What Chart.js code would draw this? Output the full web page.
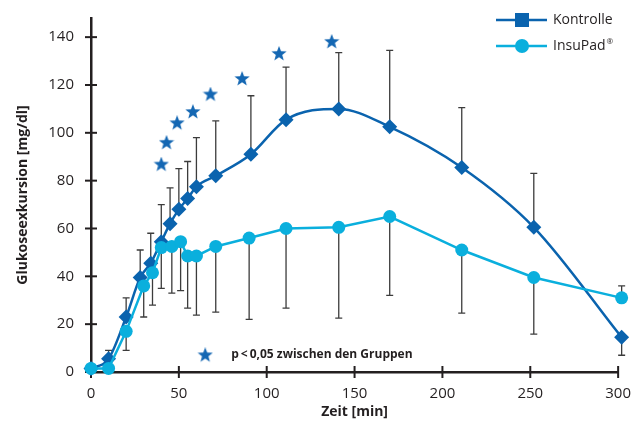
<!DOCTYPE html>
<html>
<head>
<meta charset="utf-8">
<script src="https://cdn.jsdelivr.net/npm/chart.js@4"></script>
<style>
  body { margin: 0; background: #fff; }
  #wrap { width: 636px; height: 438px; }
</style>
</head>
<body>
<div id="wrap"><canvas id="chart"></canvas></div>
<script>
// Werte
const timesKontrolle = [0, 10, 20, 28, 34, 40, 45, 50, 55, 60, 71, 91, 111, 141, 170, 211, 252, 302];
const kontrolle = [1.5, 5.5, 23, 39.5, 45.5, 54.5, 62, 68, 72.5, 77.5, 82, 91, 105.5, 110, 102.5, 85.5, 60.5, 14.5];
const kontrolleErr = [0, 3.5, 8, 11.5, 12.5, 15.5, 15, 17, 15.5, 20.5, 23, 24.5, 22, 23.5, 32, 25, 22.5, -7.5];

const timesInsuPad = [0, 10, 20, 30, 35, 40, 46, 51, 55, 60, 71, 90, 111, 141, 170, 211, 252, 302];
const insuPad = [1.5, 1.5, 17, 36, 41.5, 52, 52.5, 54.5, 48.5, 48.5, 52.5, 56, 60, 60.5, 65, 51, 39.5, 31];
const insuPadErr = [0, 0, -8, -13, -13.5, -17, -19.5, -20.5, -21.8, -24.7, -27.5, -34, -33.3, -38, -33, -26.4, -23.7, 5];

// Signifikanz-Sterne
const starTimes = [40, 43, 49, 58, 68, 86, 107, 137];
const starValues = [86.7, 95.8, 104, 108.7, 116, 122.5, 133, 138];
const noteStar = [{ x: 65, y: 7 }];
const noteText = 'p\u2009<\u20090,05 zwischen den Gruppen';

const xTicks = [0, 50, 100, 150, 200, 250, 300];
const yTicks = [0, 20, 40, 60, 80, 100, 120, 140];

const dunkelblau = '#0a63ae';
const hellblau = '#0aafdd';
const sternblau = '#1467b3';
const achse = '#231f20';
const schrift = "'Open Sans', 'Noto Sans', sans-serif";

function toPoints(xs, ys) {
  return xs.map((x, i) => ({ x: x, y: ys[i] }));
}

// ausgefuellter Stern als Punktstil
function makeStar(size, color) {
  const c = document.createElement('canvas');
  c.width = size; c.height = size;
  const g = c.getContext('2d');
  const r = size / 2, ri = r * 0.42;
  g.beginPath();
  for (let i = 0; i < 10; i++) {
    const a = -Math.PI / 2 + i * Math.PI / 5;
    const rr = i % 2 === 0 ? r : ri;
    g.lineTo(r + Math.cos(a) * rr, r + Math.sin(a) * rr);
  }
  g.closePath();
  g.fillStyle = color;
  g.fill();
  return c;
}
const starImg = makeStar(16, sternblau);

// Fehlerbalken + Kreuz-Ticks
const errorBars = {
  id: 'errorBars',
  beforeDatasetsDraw(chart) {
    const ctx = chart.ctx;
    const xs = chart.scales.x, ys = chart.scales.y;
    ctx.save();
    // Ticks quer ueber die Achsen
    ctx.strokeStyle = achse;
    ctx.lineWidth = 2;
    const yAxisX = chart.chartArea.left, xAxisY = chart.chartArea.bottom;
    xs.ticks.forEach((t, i) => {
      const px = xs.getPixelForTick(i);
      ctx.beginPath(); ctx.moveTo(px, xAxisY - 6); ctx.lineTo(px, xAxisY + 6); ctx.stroke();
    });
    ys.ticks.forEach((t, i) => {
      const py = ys.getPixelForTick(i);
      ctx.beginPath(); ctx.moveTo(yAxisX - 6, py); ctx.lineTo(yAxisX + 6, py); ctx.stroke();
    });
    // Fehlerbalken
    ctx.strokeStyle = '#3c3c3c';
    ctx.lineWidth = 1.3;
    const sets = [[timesKontrolle, kontrolle, kontrolleErr], [timesInsuPad, insuPad, insuPadErr]];
    sets.forEach(([tx, vals, errs]) => {
      tx.forEach((t, i) => {
        if (!errs[i]) return;
        const px = xs.getPixelForValue(t);
        const p0 = ys.getPixelForValue(vals[i]);
        const p1 = ys.getPixelForValue(vals[i] + errs[i]);
        ctx.beginPath();
        ctx.moveTo(px, p0); ctx.lineTo(px, p1);
        ctx.moveTo(px - 3.5, p1); ctx.lineTo(px + 3.5, p1);
        ctx.stroke();
      });
    });
    ctx.restore();
  }
};

// Legende oben rechts und Hinweis unten
const customLegend = {
  id: 'customLegend',
  afterDraw(chart) {
    const ctx = chart.ctx;
    ctx.save();
    const entries = [
      { label: 'Kontrolle', color: dunkelblau, style: 'rect', y: 20 },
      { label: 'InsuPad', sup: '®', color: hellblau, style: 'circle', y: 46 }
    ];
    const x0 = 496, x1 = 547, mx = 522;
    entries.forEach(e => {
      ctx.strokeStyle = e.color;
      ctx.fillStyle = e.color;
      ctx.lineWidth = 2.5;
      ctx.beginPath(); ctx.moveTo(x0, e.y); ctx.lineTo(x1, e.y); ctx.stroke();
      ctx.beginPath();
      if (e.style === 'rect') ctx.rect(mx - 7, e.y - 7, 14, 14);
      else ctx.arc(mx, e.y, 7, 0, Math.PI * 2);
      ctx.fill();
      ctx.fillStyle = achse;
      ctx.font = '14px ' + schrift;
      ctx.textBaseline = 'middle';
      ctx.textAlign = 'left';
      ctx.fillText(e.label, 553, e.y);
      if (e.sup) {
        const w = ctx.measureText(e.label).width;
        ctx.font = '8px ' + schrift;
        ctx.fillText(e.sup, 553 + w + 1, e.y - 4);
      }
    });
    // Hinweistext neben dem Stern
    const meta = chart.getDatasetMeta(3);
    const pt = meta.data[0];
    ctx.fillStyle = achse;
    ctx.font = 'bold 12px ' + schrift;
    ctx.textBaseline = 'middle';
    ctx.textAlign = 'left';
    ctx.fillText(noteText, pt.x + 26, pt.y - 1);
    ctx.restore();
  }
};

new Chart(document.getElementById('chart'), {
  type: 'line',
  data: {
    datasets: [
      {
        label: 'Kontrolle',
        data: toPoints(timesKontrolle, kontrolle),
        borderColor: dunkelblau,
        backgroundColor: dunkelblau,
        borderWidth: 2.5,
        cubicInterpolationMode: 'monotone',
        pointStyle: 'rectRot',
        pointRadius: 7.5,
        pointBorderWidth: 0,
        clip: false,
        order: 2
      },
      {
        label: 'InsuPad®',
        data: toPoints(timesInsuPad, insuPad),
        borderColor: hellblau,
        backgroundColor: hellblau,
        borderWidth: 2.5,
        tension: 0,
        pointStyle: 'circle',
        pointRadius: 6.5,
        pointBorderWidth: 0,
        clip: false,
        order: 1
      },
      {
        label: 'signifikant',
        data: toPoints(starTimes, starValues),
        showLine: false,
        pointStyle: starImg,
        clip: false,
        order: 3
      },
      {
        label: 'Hinweis',
        data: noteStar,
        showLine: false,
        pointStyle: starImg,
        clip: false,
        order: 3
      }
    ]
  },
  options: {
    responsive: true,
    maintainAspectRatio: false,
    animation: false,
    layout: { padding: { top: 8, right: 6, left: 0, bottom: 0 } },
    plugins: {
      legend: { display: false },
      tooltip: { enabled: false }
    },
    scales: {
      x: {
        type: 'linear',
        min: 0,
        max: 300,
        afterBuildTicks: s => { s.ticks = xTicks.map(v => ({ value: v })); },
        afterFit: s => { s.height = 66; },
        grid: { display: false },
        border: { display: true, color: achse, width: 2.5 },
        ticks: { color: achse, font: { family: schrift, size: 15 }, padding: 5, maxRotation: 0 },
        title: {
          display: true,
          text: 'Zeit [min]',
          color: achse,
          font: { family: schrift, size: 14, weight: 'bold' },
          padding: { top: 0, bottom: 18 }
        }
      },
      y: {
        min: 0,
        max: 148,
        afterBuildTicks: s => { s.ticks = yTicks.map(v => ({ value: v })); },
        afterFit: s => { s.width = 91; },
        grid: { display: false },
        border: { display: true, color: achse, width: 2.5 },
        ticks: { color: achse, font: { family: schrift, size: 15 }, padding: 9 },
        title: {
          display: true,
          text: 'Glukoseexkursion [mg/dl]',
          color: achse,
          font: { family: schrift, size: 14, weight: 'bold' },
          padding: { top: 15, bottom: 0 }
        }
      }
    }
  },
  plugins: [errorBars, customLegend]
});
</script>
</body>
</html>
